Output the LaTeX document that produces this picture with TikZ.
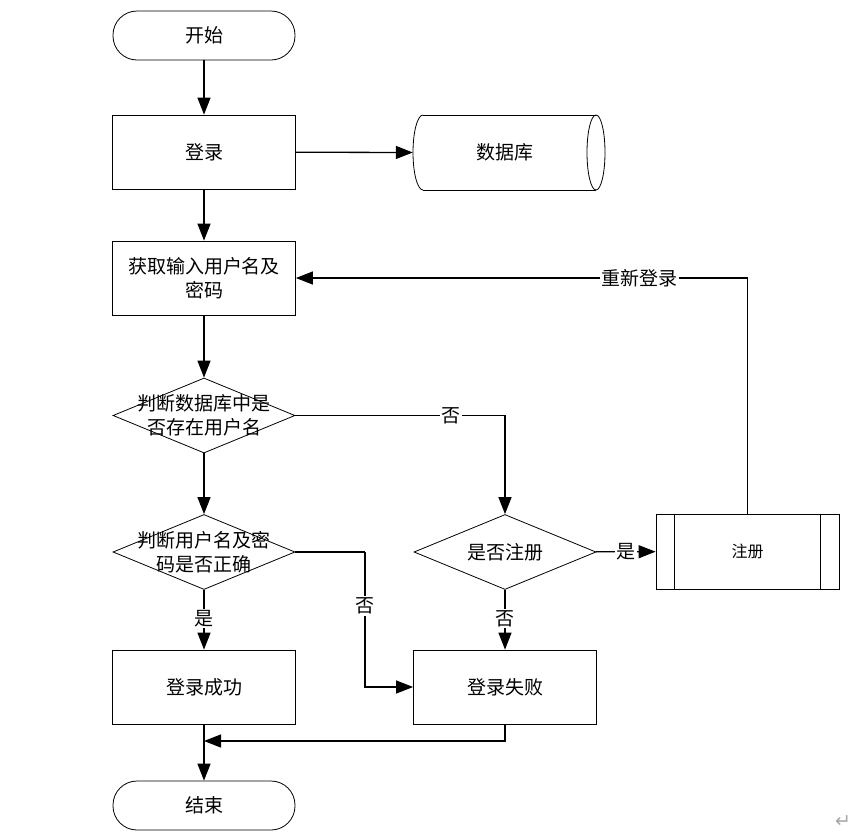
\documentclass[tikz,border=0pt]{standalone}
\usepackage{fontspec}
\newfontfamily\cjk{Noto Sans CJK SC}
\newfontfamily\dejavu{DejaVu Sans}
\usetikzlibrary{arrows.meta,shapes.geometric,calc}
\begin{document}
\begin{tikzpicture}[x=1pt,y=-1pt]
\tikzset{
 every node/.style={font=\cjk\fontsize{19pt}{24pt}\selectfont, inner sep=0pt},
 box/.style={draw, line width=0.8pt, minimum width=183pt, minimum height=74pt, align=center},
 term/.style={draw, line width=0.8pt, rounded corners=24pt, minimum height=49pt, minimum width=182pt},
 dia/.style={draw, diamond, line width=0.8pt, minimum width=182pt, minimum height=75pt, inner sep=0pt},
 txt/.style={align=center},
 arr/.style={line width=1.3pt, -{Triangle[length=17pt,width=13pt]}},
 ln/.style={line width=1.3pt},
 lab/.style={fill=white, inner sep=1.5pt},
}
\useasboundingbox (0,0) rectangle (863,836);
% nodes
\node[term] (start) at (204,35.5) {开始};
\node[box] (login) at (204,152) {登录};
% database cylinder
\draw[line width=0.8pt] (423,115) -- (596,115);
\draw[line width=0.8pt] (423,190) -- (596,190);
\draw[line width=0.8pt] (423,115) arc[start angle=90, end angle=270, x radius=10pt, y radius=37.5pt];
\draw[line width=0.8pt] (596,152.5) ellipse [x radius=9pt, y radius=37.5pt];
\node[minimum width=192pt, minimum height=75pt] (db) at (509,152.5) {};
\node (dbt) at (505,152.5) {数据库};
\node[box] (get) at (204,278) {获取输入用户名及\\密码};
\node[dia] (d1) at (204,415.5) {};
\node[txt] (d1t) at (204,415.5) {判断数据库中是\\否存在用户名};
\node[dia] (d2) at (204,552) {};
\node[txt] (d2t) at (204,552) {判断用户名及密\\码是否正确};
\node[dia] (q) at (505,552) {};
\node[txt] (qt) at (505,552) {是否注册};
\node[box, minimum width=183pt, minimum height=75pt] (reg) at (747.5,551.5) {\fontsize{16pt}{19pt}\selectfont 注册};
\draw[line width=0.8pt] ([xshift=19pt]reg.north west) -- ([xshift=19pt]reg.south west);
\draw[line width=0.8pt] ([xshift=-19pt]reg.north east) -- ([xshift=-19pt]reg.south east);
\node[box] (ok) at (204,687) {登录成功};
\node[box] (fail) at (505,687) {登录失败};
\node[term] (end) at (204,805.5) {结束};
\node[font=\dejavu\fontsize{19pt}{20pt}\selectfont, text=black!35] (pm) at (843,822) {↵};
% coordinates
\coordinate (c2) at (365,552);
\coordinate (m) at (204,741);
% connectors
\draw[arr] (start) -- (login);
\draw[arr] (login) -- (db.west);
\draw[arr] (login) -- (get);
\draw[arr] (reg.north) |- node[lab, pos=0.62] {重新登录} (get.east);
\draw[arr] (get) -- (d1);
\draw[arr] (d1.east) -| node[lab, pos=0.37] {否} (q.north);
\draw[arr] (d1) -- (d2);
\draw[ln] (d2.east) -- (c2);
\draw[arr] (c2) |- node[lab, pos=0.2] {否} (fail.west);
\draw[arr] (d2) -- node[lab, pos=0.48] {是} (ok);
\draw[arr] (q) -- node[lab, pos=0.5] {是} (reg);
\draw[arr] (q) -- node[lab, pos=0.48] {否} (fail);
\draw[arr] (ok) -- (end);
\draw[arr] (fail.south) |- (m);
\end{tikzpicture}
\end{document}
